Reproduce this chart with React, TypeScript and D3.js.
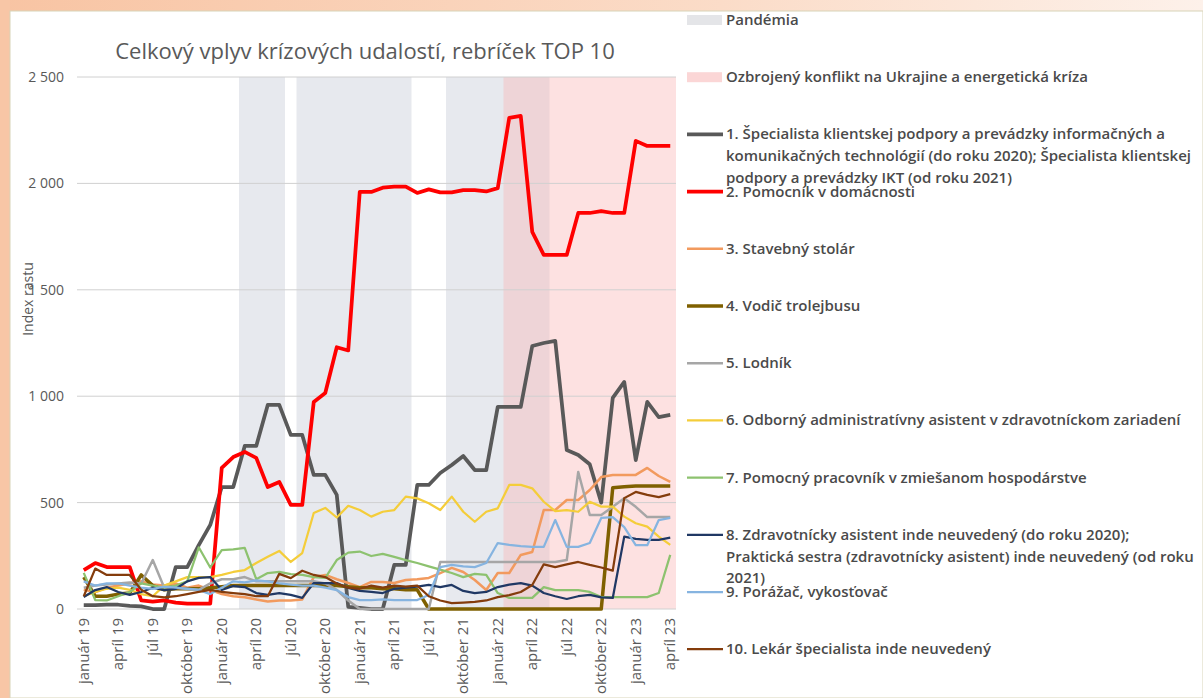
import * as d3 from "d3";

const monthNames = ["január", "február", "marec", "apríl", "máj", "jún", "júl", "august", "september", "október", "november", "december"];
const years = ["19", "20", "21", "22", "23"];
const months: string[] = [];
years.forEach(y => monthNames.forEach(m => months.push(`${m} ${y}`)));
const categories = months.slice(0, 52); // január 19 .. apríl 23
const tickLabels = categories.filter((_, i) => i % 3 === 0);
const yTicks = [0, 500, 1000, 1500, 2000, 2500];

const pandemicPeriods = [["marec 20", "jún 20"], ["august 20", "máj 21"], ["september 21", "máj 22"]];
const conflictPeriods = [["február 22", "apríl 23"]];

const s1 = [18, 18, 20, 20, 15, 12, 0, 0, 197, 197, 300, 395, 573, 573, 766, 766, 959, 959, 818, 818, 630, 630, 536, 10, 5, 0, 0, 207, 207, 583, 583, 639, 677, 719, 653, 653, 950, 950, 950, 1236, 1250, 1260, 747, 724, 680, 500, 992, 1067, 700, 973, 902, 912];
const s2 = [183, 216, 197, 197, 197, 40, 35, 40, 30, 25, 25, 25, 663, 714, 738, 710, 573, 597, 489, 489, 973, 1015, 1230, 1215, 1960, 1960, 1980, 1985, 1985, 1955, 1972, 1958, 1958, 1968, 1968, 1962, 1978, 2308, 2317, 1772, 1664, 1664, 1664, 1861, 1861, 1870, 1861, 1861, 2200, 2176, 2176, 2176];
const s3 = [90, 80, 100, 110, 120, 130, 115, 110, 120, 100, 110, 90, 70, 60, 55, 45, 35, 40, 40, 45, 150, 160, 140, 122, 103, 127, 127, 122, 136, 140, 146, 169, 193, 174, 136, 89, 169, 169, 254, 268, 465, 465, 512, 512, 559, 620, 630, 630, 630, 663, 625, 597];
const s4 = [150, 60, 60, 70, 75, 160, 110, 90, 95, 95, 95, 100, 105, 110, 110, 110, 110, 110, 110, 110, 110, 110, 110, 105, 100, 100, 95, 95, 90, 90, 0, 0, 0, 0, 0, 0, 0, 0, 0, 0, 0, 0, 0, 0, 0, 0, 570, 575, 578, 578, 578, 578];
const s5 = [100, 110, 115, 120, 125, 120, 230, 100, 100, 95, 90, 120, 140, 140, 150, 130, 130, 130, 130, 130, 130, 120, 90, 40, 0, 0, 0, 0, 0, 0, 0, 221, 221, 221, 221, 221, 221, 221, 221, 221, 221, 221, 230, 644, 442, 442, 480, 521, 480, 432, 432, 432];
const s6 = [60, 80, 95, 100, 90, 70, 60, 110, 130, 150, 150, 150, 160, 174, 183, 216, 245, 273, 221, 263, 451, 475, 430, 485, 465, 434, 457, 465, 528, 520, 497, 465, 528, 457, 410, 457, 473, 583, 583, 567, 504, 460, 465, 457, 504, 481, 481, 434, 403, 387, 340, 301];
const s7 = [170, 42, 40, 60, 80, 120, 110, 100, 110, 130, 290, 195, 277, 280, 287, 140, 169, 174, 164, 160, 150, 146, 230, 265, 270, 249, 259, 245, 230, 216, 200, 185, 169, 150, 165, 160, 75, 52, 52, 52, 103, 89, 89, 89, 80, 56, 56, 56, 56, 56, 75, 254];
const s8 = [56, 89, 103, 80, 66, 80, 100, 89, 95, 130, 146, 150, 89, 108, 103, 75, 66, 75, 66, 52, 122, 122, 122, 99, 85, 80, 75, 95, 100, 105, 113, 103, 113, 85, 75, 80, 103, 115, 122, 110, 75, 60, 47, 60, 66, 55, 52, 340, 330, 325, 325, 335];
const s9 = [130, 110, 120, 120, 110, 100, 95, 105, 100, 95, 90, 70, 100, 130, 125, 135, 130, 120, 115, 110, 110, 100, 89, 56, 42, 42, 45, 42, 42, 42, 66, 197, 207, 200, 197, 216, 310, 301, 295, 292, 292, 418, 292, 292, 310, 428, 432, 385, 300, 300, 418, 428];
const s10 = [60, 190, 160, 160, 160, 90, 60, 55, 60, 70, 80, 90, 80, 75, 70, 60, 60, 165, 145, 180, 160, 150, 120, 100, 95, 110, 100, 110, 105, 110, 60, 40, 28, 30, 33, 40, 56, 65, 80, 113, 210, 197, 210, 221, 207, 195, 180, 521, 550, 536, 526, 540];

const seriesNames = [
  ["1. Špecialista klientskej podpory a prevádzky informačných a", "komunikačných technológií (do roku 2020); Špecialista klientskej", "podpory a prevádzky IKT (od roku 2021)"],
  ["2. Pomocník v domácnosti"],
  ["3. Stavebný stolár"],
  ["4. Vodič trolejbusu"],
  ["5. Lodník"],
  ["6. Odborný administratívny asistent v zdravotníckom zariadení"],
  ["7. Pomocný pracovník v zmiešanom hospodárstve"],
  ["8. Zdravotnícky asistent inde neuvedený (do roku 2020);", "Praktická sestra (zdravotnícky asistent) inde neuvedený (od roku", "2021)"],
  ["9. Porážač, vykosťovač"],
  ["10. Lekár špecialista inde neuvedený"],
];
const seriesValues = [s1, s2, s3, s4, s5, s6, s7, s8, s9, s10];
const colors = ["#595959", "#FF0000", "#F29A5E", "#7F6000", "#A6A6A6", "#F4CD3A", "#8DC26F", "#203864", "#86B4E0", "#843C0C"];
const widths = [3.75, 3.75, 2.5, 3.5, 2.5, 2.25, 2.25, 2.25, 2.25, 2.25];

const font = "'Open Sans', Lato, sans-serif";
const textColor = "#595959";

export default function App() {
  const W = 1203, H = 698;
  const x = d3.scaleBand<string>().domain(categories).range([78, 676]).padding(0);
  const y = d3.scaleLinear().domain([0, 2500]).range([609, 77]);
  const cx = (c: string) => (x(c) ?? 0) + x.bandwidth() / 2;
  const fmt = d3.formatLocale({ thousands: " ", grouping: [3], decimal: ",", currency: ["", ""] }).format(",");
  const line = d3.line<number>().x((_, i) => cx(categories[i])).y(d => y(d));

  const periodRect = (p: string[]) => {
    const x0 = x(p[0]) ?? 0;
    const x1 = (x(p[1]) ?? 0) + x.bandwidth();
    return { x: x0, width: x1 - x0 };
  };

  const legendX = 687;
  const legendY = (k: number) => 20 + k * 57.2;
  const legendFont = { fontFamily: font, fontSize: 15, fontWeight: 600, fill: "#4a4a4a" };

  return (
    <svg width={W} height={H} style={{ position: "absolute", left: 0, top: 0 }}>
      <defs>
        <linearGradient id="topbg" x1="0" x2="1" y1="0" y2="0">
          <stop offset="0" stopColor="#F8C4A3" />
          <stop offset="0.6" stopColor="#FBDCC8" />
          <stop offset="1" stopColor="#FDF1EA" />
        </linearGradient>
      </defs>
      <rect x={0} y={0} width={W} height={H} fill="url(#topbg)" />
      <rect x={0} y={0} width={10} height={H} fill="#F8C6A6" />
      <rect x={10} y={11} width={W - 10} height={H - 11} fill="#ffffff" stroke="#D8D4B8" strokeWidth={1} />

      {/* shading */}
      {pandemicPeriods.map((p, i) => {
        const r = periodRect(p);
        return <rect key={`p${i}`} x={r.x} y={y(2500)} width={r.width} height={y(0) - y(2500)} fill="#E7E9EE" />;
      })}
      {conflictPeriods.map((p, i) => {
        const r = periodRect(p);
        return <rect key={`c${i}`} x={r.x} y={y(2500)} width={r.width} height={y(0) - y(2500)} fill="rgb(250,180,180)" fillOpacity={0.4} />;
      })}

      {/* grid */}
      {yTicks.map(t => (
        <g key={`t${t}`}>
          <line x1={77} x2={676} y1={y(t)} y2={y(t)} stroke="#D0D0D0" strokeWidth={1} />
          <text x={64} y={y(t) + 5} textAnchor="end" fontFamily={font} fontSize={14} fill={textColor}>{fmt(t)}</text>
        </g>
      ))}

      {/* x labels */}
      {tickLabels.map(c => (
        <text key={c} transform={`translate(${cx(c) + 5},${618}) rotate(-90)`} textAnchor="end" fontFamily={font} fontSize={15} fill={textColor}>{c}</text>
      ))}

      <text transform="translate(33,299) rotate(-90)" textAnchor="middle" fontFamily={font} fontSize={14} fill={textColor}>Index rastu</text>

      <text x={365} y={59} textAnchor="middle" fontFamily={font} fontSize={22} fill={textColor}>Celkový vplyv krízových udalostí, rebríček TOP 10</text>

      {/* series */}
      {seriesValues.map((vals, k) => (
        <path key={`s${k}`} d={line(vals) ?? ""} fill="none" stroke={colors[k]} strokeWidth={widths[k]} strokeLinejoin="round" />
      ))}

      {/* legend */}
      <rect x={legendX} y={legendY(0) - 5} width={35} height={10} fill="#E4E5E8" />
      <text x={726} y={legendY(0) + 5} {...legendFont}>Pandémia</text>
      <rect x={legendX} y={legendY(1) - 5} width={35} height={10} fill="#FBD6D6" />
      <text x={726} y={legendY(1) + 5} {...legendFont}>Ozbrojený konflikt na Ukrajine a energetická kríza</text>
      {seriesNames.map((lines, k) => {
        const cy = legendY(k + 2);
        return (
          <g key={`l${k}`}>
            <line x1={legendX} x2={legendX + 36} y1={cy} y2={cy} stroke={colors[k]} strokeWidth={widths[k]} />
            {lines.map((t, j) => (
              <text key={j} x={726} y={cy + 5 + j * 21.7} {...legendFont}>{t}</text>
            ))}
          </g>
        );
      })}
    </svg>
  );
}
